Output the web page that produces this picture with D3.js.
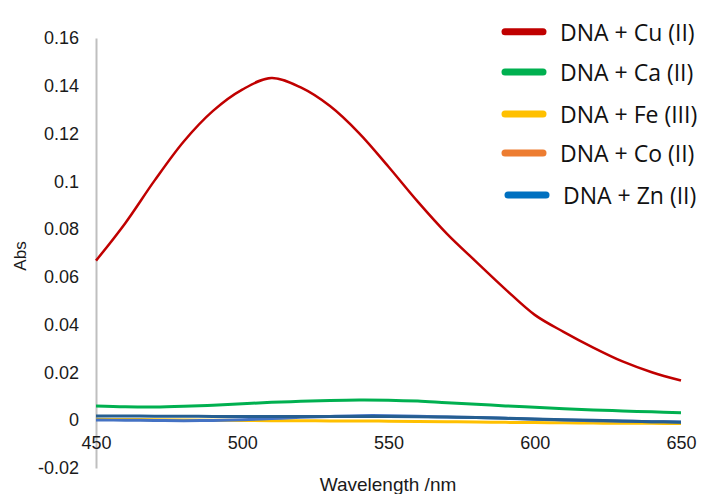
<!DOCTYPE html>
<html>
<head>
<meta charset="utf-8">
<script src="https://cdn.jsdelivr.net/npm/d3@7"></script>
<style>
  body { margin: 0; background: #fff; }
  svg { display: block; }
</style>
</head>
<body>
<div id="chart"></div>
<script>
const WIDTH = 712;
const HEIGHT = 494;

// wavelength grid (nm)
const wavelengths = [450, 460, 470, 480, 490, 500, 510, 520, 530, 540, 550,
                     560, 570, 580, 590, 600, 610, 620, 630, 640, 650];

const cuValues = [0.0668, 0.0825, 0.1003, 0.1167, 0.1295, 0.1384, 0.1433, 0.1393, 0.1315, 0.1201, 0.1061,
                  0.0915, 0.0780, 0.0663, 0.0548, 0.0441, 0.0369, 0.0304, 0.0246, 0.0201, 0.0166];
const caValues = [0.0060, 0.0056, 0.0055, 0.0058, 0.0063, 0.0069, 0.0075, 0.0079, 0.0083, 0.0085, 0.0084,
                  0.0080, 0.0073, 0.0067, 0.0060, 0.0054, 0.0048, 0.0043, 0.0039, 0.0035, 0.0031];
const feValues = [0.0004, 0.0003, 0.0002, 0.0001, 0.0000, -0.0001, -0.0002, -0.0002, -0.0003, -0.0003, -0.0004,
                  -0.0005, -0.0006, -0.0007, -0.0009, -0.0010, -0.0011, -0.0012, -0.0013, -0.0013, -0.0014];
const coValues = [0.0001, 0.0000, -0.0001, -0.0002, -0.0001, 0.0002, 0.0007, 0.0012, 0.0016, 0.0019, 0.0019,
                  0.0017, 0.0014, 0.0011, 0.0008, 0.0004, 0.0001, -0.0002, -0.0004, -0.0006, -0.0007];
const znValues = [0.0018, 0.0018, 0.0017, 0.0017, 0.0016, 0.0016, 0.0016, 0.0016, 0.0016, 0.0016, 0.0016,
                  0.0015, 0.0013, 0.0011, 0.0008, 0.0005, 0.0002, 0.0000, -0.0003, -0.0006, -0.0008];

const seriesNames = ["DNA + Cu (II)", "DNA + Ca (II)", "DNA + Fe (III)", "DNA + Co (II)", "DNA + Zn (II)"];
const seriesValues = [cuValues, caValues, feValues, coValues, znValues];
const legendColors = ["#C00000", "#00B050", "#FFC000", "#ED7D31", "#0070C0"];
const lineColors = ["#C00000", "#00B050", "#FFC000", "#4472C4", "#255E91"];

const yTicks = [-0.02, 0, 0.02, 0.04, 0.06, 0.08, 0.1, 0.12, 0.14, 0.16];
const xTicks = [450, 500, 550, 600, 650];

var svg = d3.select("div#chart").append("svg")
    .attr("width", WIDTH)
    .attr("height", HEIGHT);

var x = d3.scaleLinear([450, 650], [96, 681]);
var y = d3.scaleLinear([-0.02, 0.16], [468, 38]);

// y axis
var yAxis = svg.append("g")
    .attr("transform", "translate(96,0)")
    .call(d3.axisLeft(y).tickValues(yTicks).tickSize(0).tickPadding(17)
        .tickFormat(d => d === 0 ? "0" : String(+d.toFixed(2))));
yAxis.select(".domain").attr("stroke", "#BFBFBF").attr("stroke-width", 2);
yAxis.selectAll("text")
    .attr("font-family", "Liberation Sans, Arial, sans-serif")
    .attr("font-size", 18)
    .attr("fill", "#1a1a1a");

// x axis labels sit under the zero line
var xAxis = svg.append("g")
    .attr("transform", `translate(0,${y(0)})`)
    .call(d3.axisBottom(x).tickValues(xTicks).tickSize(0).tickPadding(16));
xAxis.select(".domain").remove();
xAxis.selectAll("text")
    .attr("font-family", "Liberation Sans, Arial, sans-serif")
    .attr("font-size", 18)
    .attr("fill", "#1a1a1a");

// axis titles
svg.append("text")
    .attr("x", 388).attr("y", 491)
    .attr("text-anchor", "middle")
    .attr("font-family", "Liberation Sans, Arial, sans-serif")
    .attr("font-size", 19)
    .attr("fill", "#1a1a1a")
    .text("Wavelength /nm");

svg.append("text")
    .attr("transform", "translate(26,256) rotate(-90)")
    .attr("text-anchor", "middle")
    .attr("font-family", "Liberation Sans, Arial, sans-serif")
    .attr("font-size", 17)
    .attr("fill", "#1a1a1a")
    .text("Abs");

// lines
const lineFunc = d3.line()
    .x((d, i) => x(wavelengths[i]))
    .y(d => y(d))
    .curve(d3.curveCatmullRom.alpha(0.5));

const drawOrder = [1, 2, 3, 4, 0];
var lineContainer = svg.append("g").attr("fill", "none");
drawOrder.forEach(k => {
    lineContainer.append("path")
        .attr("d", lineFunc(seriesValues[k]))
        .attr("stroke", lineColors[k])
        .attr("stroke-width", k === 0 ? 2.5 : 3);
});

// legend
const legendRows = [31.7, 72, 114, 153, 195];
const legendShift = [0, 0, 0, 0, 3];
var legend = svg.append("g");
seriesNames.forEach((name, i) => {
    var row = legend.append("g")
        .attr("transform", `translate(${legendShift[i]},${legendRows[i]})`);
    row.append("line")
        .attr("x1", 505).attr("x2", 543)
        .attr("y1", 0).attr("y2", 0)
        .attr("stroke", legendColors[i])
        .attr("stroke-width", 7)
        .attr("stroke-linecap", "round");
    row.append("text")
        .attr("x", 560).attr("y", 9)
        .attr("font-family", "Open Sans, sans-serif")
        .attr("font-size", 23)
        .attr("fill", "#111")
        .text(name);
});
</script>
</body>
</html>
